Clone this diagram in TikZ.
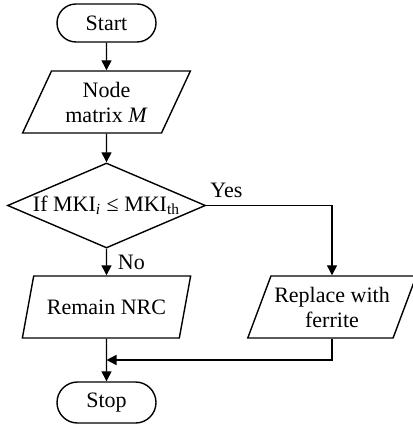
\documentclass[tikz,border=0pt]{standalone}
\usepackage{fontspec}
\setmainfont{Liberation Serif}
\usetikzlibrary{shapes.geometric,shapes.misc,arrows.meta}
\begin{document}
\begin{tikzpicture}[x=0.5pt, y=-0.5pt, line width=0.7pt,
    font=\fontsize{11}{12.5}\selectfont,
    >={Triangle[length=5pt, width=5pt]},
    term/.style={draw, rounded rectangle, minimum width=51.5pt, minimum height=19pt, inner sep=1pt},
    io/.style={draw, trapezium, trapezium left angle=63, trapezium right angle=117,
        trapezium stretches=true, minimum width=84.5pt, minimum height=31pt, inner sep=1pt, align=center},
    decision/.style={draw, diamond, aspect=2.33, minimum width=99pt, minimum height=42.5pt, inner sep=0pt}]
    \useasboundingbox (0,0) rectangle (412,426);
    % Blocks
    \node[term] (start) at (106.5,23) {Start};
    \node[io] (input) at (106.5,102) {Node\\matrix \textit{M}};
    \node[decision] (check) at (106.5,205.5) {If MKI\textsubscript{\textit{i}} ≤ MKI\textsubscript{th}};
    \node[io] (remain) at (106.5,307) {Remain NRC};
    \node[io] (replace) at (332,307) {Replace with\\ferrite};
    \node[term, minimum height=20.5pt] (stop) at (106.5,402.5) {Stop};
    \coordinate (merge) at (106.5,360);
    % Connectors
    \draw[->] (start) -- (input);
    \draw[->] (input) -- (check);
    \draw[->] (check) -- node[right, xshift=2pt] {No} (remain);
    \draw[->] (check.east) -| node[pos=0.08, above] {Yes} (replace.north);
    \draw[->] (replace.south) |- (merge);
    \draw[->] (remain) -- (stop);
\end{tikzpicture}
\end{document}
